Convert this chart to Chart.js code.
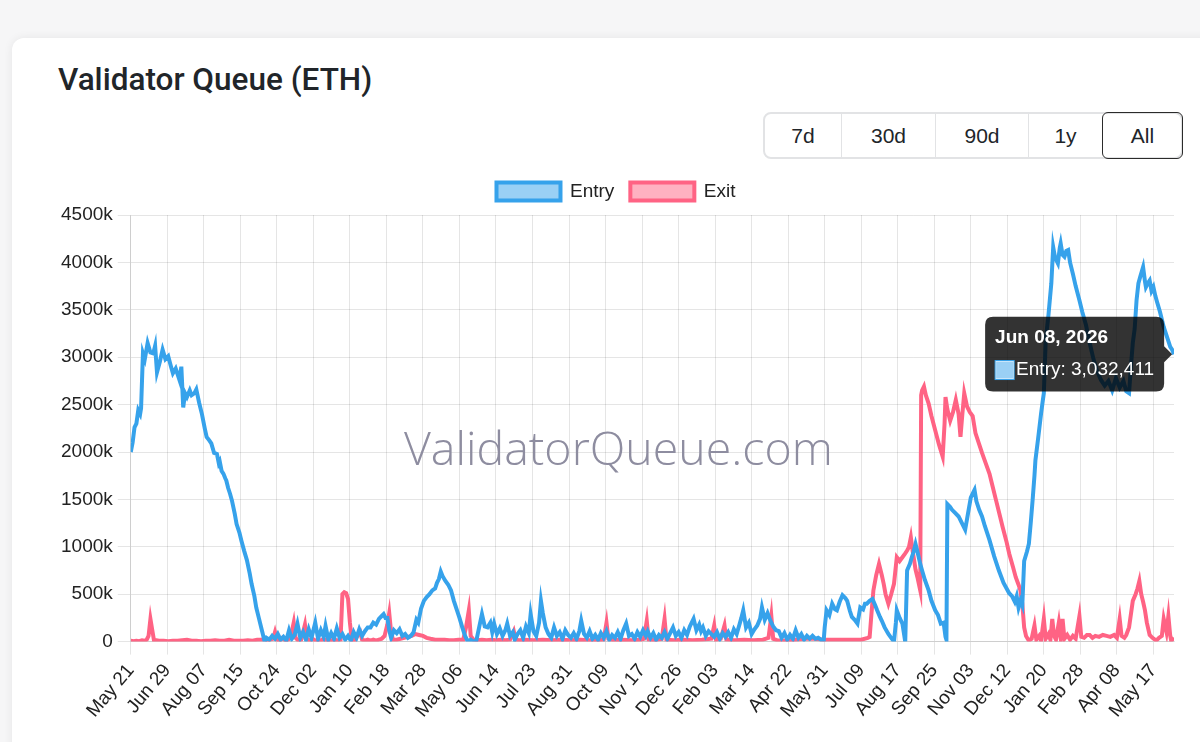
<!DOCTYPE html>
<html>
<head>
<meta charset="utf-8">
<script src="https://cdn.jsdelivr.net/npm/chart.js@4.4.1/dist/chart.umd.min.js"></script>
<style>
  html, body { margin: 0; padding: 0; width: 1200px; height: 742px; overflow: hidden; background: #f6f6f7; font-family: "Liberation Sans", Arial, sans-serif; }
  .card { position: absolute; left: 12px; top: 38px; width: 1210px; height: 760px; background: #fff; border-radius: 12px; box-shadow: 0 0 10px rgba(0,0,0,0.07); }
  h1 { position: absolute; left: 58px; top: 61px; margin: 0; font: 500 31.5px Roboto, sans-serif; color: #212529; }
  .range { position: absolute; left: 763px; top: 112px; height: 47px; display: flex; border: 2px solid #e2e3e5; border-radius: 8px; box-sizing: border-box; background: #fff; }
  .range div { display: flex; align-items: center; justify-content: center; font-size: 21px; color: #212529; border-left: 1px solid #e2e3e5; box-sizing: border-box; }
  .range div:first-child { border-left: none; }
  .range div.on { border: 1.5px solid #2b2b2b; border-radius: 6px; margin: -2px -2px -2px 0; }
  .wrap { position: absolute; left: 56px; top: 166px; width: 1120px; height: 561px; }
  .mark { position: absolute; left: 404px; top: 415px; font: 300 46.5px "Open Sans", sans-serif; color: #8e8da0; pointer-events: none; }
</style>
</head>
<body>
<div class="card"></div>
<h1>Validator Queue (ETH)</h1>
<div class="range">
  <div style="width:76px">7d</div>
  <div style="width:94px">30d</div>
  <div style="width:93px">90d</div>
  <div style="width:74px">1y</div>
  <div class="on" style="width:81px">All</div>
</div>
<div class="wrap"><canvas id="queue"></canvas></div>
<div class="mark">ValidatorQueue.com</div>
<script>
// x = days since May 21 2023, y = ETH in thousands
const START_DATE = Date.UTC(2023, 4, 21)
const TICK_STEP = 39
const tickLabels = ['May 21', 'Jun 29', 'Aug 07', 'Sep 15', 'Oct 24', 'Dec 02', 'Jan 10', 'Feb 18', 'Mar 28',
  'May 06', 'Jun 14', 'Jul 23', 'Aug 31', 'Oct 09', 'Nov 17', 'Dec 26', 'Feb 03', 'Mar 14', 'Apr 22', 'May 31',
  'Jul 09', 'Aug 17', 'Sep 25', 'Nov 03', 'Dec 12', 'Jan 20', 'Feb 28', 'Apr 08', 'May 17']
const monthNames = ['Jan', 'Feb', 'Mar', 'Apr', 'May', 'Jun', 'Jul', 'Aug', 'Sep', 'Oct', 'Nov', 'Dec']

const entrySeries = [
  [0, 2000], [2, 2100], [4, 2260], [6, 2300], [8, 2440], [10, 2400], [11, 2460], [13, 3040], [15, 2980], [18, 3150],
  [21, 3050], [24, 3040], [26, 3120], [28, 2840], [31, 2950], [34, 3080], [37, 2980], [40, 3010], [43, 2900], [45, 2830],
  [48, 2880], [52, 2760], [54, 2900], [56, 2470], [58, 2620], [60, 2580], [63, 2650], [65, 2600], [68, 2620], [70, 2660],
  [73, 2520], [76, 2400], [79, 2250], [81, 2160], [84, 2120], [86, 2090], [89, 1990], [92, 1980], [94, 1880], [95, 1900],
  [97, 1800], [99, 1770], [101, 1720], [102, 1700], [104, 1620], [106, 1560], [108, 1490], [111, 1350], [113, 1240], [116, 1150],
  [118, 1070], [121, 960], [124, 860], [127, 720], [129, 610], [132, 480], [134, 360], [137, 240], [140, 120], [143, 0],
  [145, 40], [148, 20], [151, 60], [154, 30], [157, 80], [160, 20], [163, 50], [166, 10], [169, 120], [172, 30],
  [175, 70], [178, 190], [181, 40], [184, 100], [187, 20], [190, 130], [193, 40], [197, 200], [200, 30], [203, 120],
  [206, 50], [208, 165], [211, 20], [214, 90], [217, 30], [220, 140], [223, 40], [226, 80], [229, 20], [232, 60],
  [235, 10], [238, 100], [241, 40], [244, 130], [247, 60], [250, 110], [253, 150], [256, 150], [259, 200], [262, 180],
  [265, 240], [268, 270], [270, 290], [272, 250], [274, 250], [276, 120], [278, 40], [281, 120], [284, 90], [287, 130],
  [290, 60], [293, 80], [296, 40], [299, 60], [302, 100], [305, 230], [307, 200], [310, 350], [313, 430], [316, 470],
  [319, 500], [322, 540], [325, 560], [327, 620], [329, 660], [331, 740], [333, 690], [336, 640], [339, 600], [342, 540],
  [345, 430], [348, 340], [351, 250], [354, 150], [357, 60], [360, 0], [363, 20], [366, 0], [369, 10], [372, 150],
  [375, 290], [378, 160], [381, 150], [384, 200], [386, 100], [388, 190], [391, 80], [394, 140], [397, 60], [400, 120],
  [402, 190], [405, 60], [408, 100], [410, 20], [413, 80], [416, 120], [419, 40], [422, 160], [425, 90], [427, 290],
  [430, 110], [433, 60], [436, 200], [438, 430], [440, 300], [443, 150], [446, 80], [449, 40], [452, 150], [455, 60],
  [458, 100], [461, 30], [464, 120], [467, 70], [470, 40], [473, 90], [476, 30], [479, 110], [481, 220], [484, 80],
  [487, 40], [490, 110], [493, 30], [496, 70], [499, 20], [502, 90], [505, 40], [508, 110], [511, 20], [514, 70],
  [517, 40], [520, 100], [523, 30], [526, 120], [529, 190], [532, 60], [535, 80], [538, 30], [541, 100], [544, 50],
  [547, 120], [550, 60], [552, 110], [555, 40], [558, 90], [561, 20], [564, 70], [567, 40], [570, 100], [573, 30],
  [576, 90], [579, 150], [582, 60], [585, 100], [588, 40], [591, 120], [594, 70], [597, 160], [599, 200], [601, 240],
  [604, 120], [607, 180], [609, 110], [611, 150], [614, 60], [617, 110], [620, 80], [623, 50], [626, 100], [629, 30],
  [632, 90], [635, 50], [638, 100], [641, 40], [644, 130], [647, 80], [650, 180], [652, 250], [654, 330], [657, 150],
  [660, 200], [663, 80], [666, 130], [669, 170], [672, 240], [674, 360], [677, 230], [680, 300], [683, 220], [686, 160],
  [689, 120], [692, 110], [695, 40], [698, 90], [701, 20], [704, 70], [707, 30], [710, 120], [713, 40], [716, 80],
  [719, 20], [722, 60], [725, 30], [728, 60], [731, 30], [734, 40], [737, 20], [740, 20], [741, 150], [743, 330],
  [746, 280], [749, 400], [752, 340], [754, 330], [757, 420], [760, 490], [763, 460], [765, 430], [768, 320], [770, 260],
  [773, 230], [776, 190], [779, 360], [782, 340], [784, 400], [786, 400], [789, 430], [792, 450], [795, 380], [797, 330],
  [800, 260], [802, 220], [805, 150], [809, 80], [812, 40], [815, 0], [817, 200], [818, 330], [821, 250], [824, 190],
  [827, 0], [829, 750], [832, 820], [834, 890], [836, 950], [838, 1030], [840, 950], [843, 820], [845, 750], [848, 650],
  [852, 540], [855, 430], [859, 330], [862, 280], [865, 190], [868, 200], [870, 50], [871, 20], [872, 1450], [875, 1420],
  [877, 1390], [880, 1360], [884, 1320], [887, 1260], [891, 1180], [894, 1350], [897, 1520], [899, 1560], [901, 1600], [903, 1480],
  [906, 1390], [909, 1320], [912, 1220], [917, 1070], [922, 900], [927, 750], [932, 620], [938, 510], [941, 480], [944, 420],
  [946, 480], [948, 360], [950, 430], [952, 380], [954, 850], [957, 950], [959, 1030], [961, 1250], [963, 1490], [965, 1750],
  [966, 1910], [969, 2150], [972, 2400], [974, 2550], [975, 2620], [977, 3180], [980, 3450], [983, 3780], [985, 4160], [987, 4050],
  [990, 3990], [992, 4150], [993, 4200], [995, 4080], [997, 4060], [999, 4120], [1001, 4130], [1003, 4000], [1006, 3880], [1009, 3750],
  [1013, 3600], [1016, 3480], [1020, 3340], [1024, 3150], [1028, 2980], [1032, 2850], [1036, 2760], [1040, 2700], [1044, 2750], [1048, 2650],
  [1052, 2780], [1056, 2680], [1060, 2750], [1063, 2640], [1066, 2620], [1068, 2900], [1070, 3150], [1072, 3300], [1074, 3600], [1076, 3780],
  [1078, 3850], [1081, 3950], [1083, 3800], [1084, 3740], [1086, 3780], [1088, 3810], [1090, 3700], [1092, 3740], [1094, 3650], [1096, 3580],
  [1099, 3480], [1103, 3320], [1106, 3230], [1110, 3110], [1112, 3080], [1114, 3032.411],
]

const exitSeries = [
  [0, 10], [3, 5], [6, 10], [9, 5], [12, 15], [15, 10], [17, 20], [19, 60], [21, 240], [23, 120],
  [25, 0], [27, 15], [30, 10], [35, 10], [40, 5], [45, 10], [50, 10], [55, 15], [60, 20], [65, 10],
  [70, 10], [75, 5], [80, 10], [85, 10], [90, 15], [95, 10], [100, 10], [105, 20], [110, 10], [115, 10],
  [120, 10], [125, 15], [130, 10], [135, 20], [140, 20], [143, 30], [146, 10], [149, 20], [152, 30], [154, 100],
  [156, 20], [159, 10], [162, 40], [165, 10], [168, 20], [171, 60], [174, 200], [176, 40], [179, 10], [182, 20],
  [186, 180], [188, 30], [191, 10], [194, 30], [197, 10], [200, 20], [203, 10], [206, 30], [209, 10], [212, 20],
  [215, 10], [218, 20], [221, 10], [224, 20], [226, 500], [228, 520], [230, 510], [232, 450], [234, 200], [236, 20],
  [239, 10], [242, 60], [245, 100], [247, 20], [250, 10], [253, 20], [256, 10], [259, 20], [262, 10], [265, 20],
  [268, 30], [271, 60], [274, 180], [276, 300], [278, 100], [280, 20], [284, 20], [288, 30], [292, 40], [296, 50],
  [300, 60], [304, 80], [308, 70], [312, 60], [316, 40], [320, 30], [325, 20], [330, 20], [335, 20], [340, 15],
  [345, 15], [350, 20], [355, 20], [358, 150], [361, 330], [363, 60], [366, 20], [370, 15], [375, 20], [380, 15],
  [385, 20], [390, 15], [395, 20], [400, 15], [405, 20], [409, 110], [411, 20], [415, 15], [420, 20], [430, 15],
  [440, 20], [450, 15], [460, 20], [470, 15], [480, 20], [490, 15], [500, 15], [505, 20], [508, 200], [510, 30],
  [515, 15], [525, 20], [535, 15], [545, 20], [548, 30], [551, 220], [553, 20], [560, 15], [567, 30], [570, 240],
  [572, 20], [580, 15], [590, 20], [600, 15], [610, 20], [620, 30], [623, 170], [625, 20], [630, 30], [634, 170],
  [636, 20], [645, 15], [655, 20], [665, 15], [675, 20], [681, 40], [684, 270], [686, 30], [690, 15], [700, 10],
  [710, 20], [720, 30], [730, 30], [740, 20], [750, 20], [760, 20], [770, 20], [780, 20], [787, 40], [789, 50],
  [791, 300], [793, 540], [796, 700], [799, 820], [802, 700], [804, 610], [806, 500], [809, 400], [812, 500], [815, 610],
  [818, 890], [821, 850], [824, 890], [827, 930], [829, 960], [831, 1000], [833, 1100], [835, 950], [836, 890], [838, 760],
  [840, 680], [843, 540], [844, 2600], [845, 2650], [847, 2690], [849, 2600], [852, 2510], [855, 2380], [859, 2230], [863, 2080],
  [867, 1950], [869, 2300], [870, 2580], [872, 2450], [875, 2330], [878, 2420], [881, 2550], [884, 2400], [886, 2160], [888, 2400],
  [890, 2620], [893, 2480], [896, 2420], [899, 2380], [902, 2200], [906, 2080], [909, 1990], [913, 1880], [917, 1770], [920, 1650],
  [924, 1490], [928, 1330], [931, 1210], [935, 1060], [938, 930], [942, 790], [945, 680], [948, 600], [950, 540], [952, 400],
  [954, 150], [956, 60], [959, 10], [962, 30], [965, 170], [967, 20], [970, 60], [972, 10], [975, 240], [977, 30],
  [980, 80], [982, 20], [984, 240], [986, 60], [988, 20], [991, 200], [993, 40], [995, 240], [997, 30], [1000, 70],
  [1003, 20], [1006, 60], [1009, 30], [1013, 270], [1015, 50], [1018, 40], [1021, 70], [1024, 70], [1027, 40], [1030, 60],
  [1034, 50], [1038, 70], [1042, 60], [1046, 50], [1050, 70], [1053, 40], [1056, 240], [1058, 60], [1061, 40], [1063, 70],
  [1066, 150], [1070, 430], [1073, 500], [1075, 560], [1077, 640], [1079, 500], [1081, 420], [1083, 330], [1085, 200], [1088, 70],
  [1091, 40], [1095, 10], [1098, 40], [1101, 60], [1103, 240], [1106, 100], [1108, 270], [1110, 60], [1111, 10], [1114, 40],
]

const toPoints = (series) => series.map(([x, y]) => ({ x, y }))

function dayToDate(day) {
  const d = new Date(START_DATE + day * 86400000)
  return `${monthNames[d.getUTCMonth()]} ${String(d.getUTCDate()).padStart(2, '0')}, ${d.getUTCFullYear()}`
}

// a little more room under the legend
const legendGap = {
  id: 'legendGap',
  beforeInit(chart) {
    const fit = chart.legend.fit
    chart.legend.fit = function () {
      fit.bind(chart.legend)()
      this.height += 4
    }
  },
}

Chart.defaults.font.family = '"Liberation Sans", Arial, sans-serif'
Chart.defaults.font.size = 19
Chart.defaults.color = '#222'

const chart = new Chart(document.getElementById('queue'), {
  type: 'line',
  data: {
    datasets: [
      {
        label: 'Entry',
        data: toPoints(entrySeries),
        borderColor: 'rgb(54, 162, 235)',
        backgroundColor: 'rgba(54, 162, 235, 0.5)',
      },
      {
        label: 'Exit',
        data: toPoints(exitSeries),
        borderColor: 'rgb(255, 99, 132)',
        backgroundColor: 'rgba(255, 99, 132, 0.5)',
      },
    ],
  },
  plugins: [legendGap],
  options: {
    animation: false,
    responsive: true,
    maintainAspectRatio: false,
    events: [],
    elements: {
      line: { borderWidth: 4, tension: 0 },
      point: { radius: 0, hoverRadius: 0 },
    },
    plugins: {
      legend: {
        labels: { boxWidth: 64, boxHeight: 18, padding: 16 },
      },
      tooltip: {
        backgroundColor: 'rgba(0, 0, 0, 0.8)',
        titleFont: { size: 19, weight: 'bold' },
        bodyFont: { size: 19 },
        padding: 10,
        caretSize: 8,
        cornerRadius: 8,
        titleMarginBottom: 9,
        callbacks: {
          title: (items) => dayToDate(items[0].parsed.x),
          label: (ctx) => `${ctx.dataset.label}: ${Math.round(ctx.parsed.y * 1000).toLocaleString('en-US')}`,
        },
      },
    },
    scales: {
      x: {
        type: 'linear',
        min: 0,
        max: 1114,
        grid: { tickLength: 13 },
        ticks: {
          stepSize: TICK_STEP,
          includeBounds: false,
          autoSkip: false,
          maxTicksLimit: 60,
          maxRotation: 50,
          padding: 5,
          callback: (v) => tickLabels[Math.round(v / TICK_STEP)],
        },
      },
      y: {
        min: 0,
        max: 4500,
        grid: { tickLength: 13 },
        ticks: {
          stepSize: 500,
          padding: 5,
          callback: (v) => (v === 0 ? '0' : v + 'k'),
        },
      },
    },
  },
})

// show the hover box on the latest entry value
const last = entrySeries.length - 1
const pt = chart.getDatasetMeta(0).data[last]
chart.tooltip.setActiveElements([{ datasetIndex: 0, index: last }], { x: pt.x, y: pt.y })
chart.update('none')
</script>
</body>
</html>
